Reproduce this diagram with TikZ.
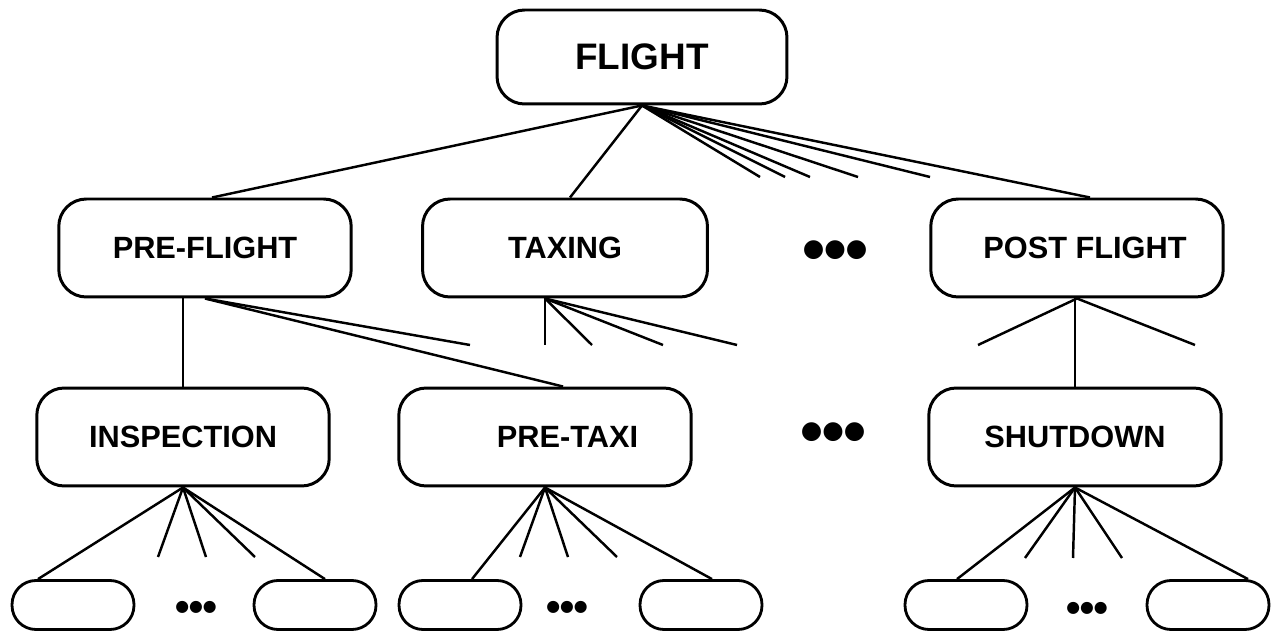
\documentclass[tikz,border=0pt]{standalone}
\usepackage{fontspec}
\setmainfont{Liberation Sans}
\newfontfamily\dotfont{DejaVu Sans}
\usepackage{tikz}
\usetikzlibrary{calc}

\begin{document}
\begin{tikzpicture}[x=0.02cm, y=-0.02cm,
    task/.style={rectangle, rounded corners=0.55cm, draw, line width=1.7pt,
                 minimum width=5.85cm, minimum height=1.96cm, align=center,
                 font=\fontsize{17.5}{20}\selectfont\bfseries},
    leaf/.style={rectangle, rounded corners=0.48cm, draw, line width=1.6pt,
                 minimum width=2.44cm, minimum height=0.98cm},
    link/.style={line width=1.4pt},
    moredots/.style={inner sep=0pt, font=\dotfont\fontsize{14}{14}\selectfont},
    fewdots/.style={inner sep=0pt, font=\dotfont\fontsize{9}{9}\selectfont}
]
\useasboundingbox (0,0) rectangle (1271,634);

\node[task, minimum width=5.8cm, minimum height=1.88cm,
      font=\fontsize{21}{24}\selectfont\bfseries] (flight) at (642,57) {FLIGHT};

\node[task] (preflight) at (205,248) {PRE-FLIGHT};
\node[task, minimum width=5.7cm] (taxing) at (565,248) {TAXING};
\node[moredots] (dotsA) at (835,250) {●●●};
\node[task] (postflight) at (1077,248) {\hspace*{0.32cm}POST FLIGHT};

\node[task] (inspection) at (183,437) {INSPECTION};
\node[task] (pretaxi) at (545,437) {\hspace*{0.9cm}PRE-TAXI};
\node[moredots] (dotsB) at (833,432) {●●●};
\node[task] (shutdown) at (1075,437) {SHUTDOWN};

\node[leaf] (insA) at (73,605) {};
\node[fewdots] (insdots) at (196,607) {●●●};
\node[leaf] (insB) at (315,605) {};
\node[leaf] (ptA) at (460,605) {};
\node[fewdots] (ptdots) at (567,607) {●●●};
\node[leaf] (ptB) at (701,605) {};
\node[leaf] (sdA) at (966,605) {};
\node[fewdots] (sddots) at (1087,608) {●●●};
\node[leaf] (sdB) at (1208,605) {};

\draw[link] (flight.south) -- ([xshift=0.14cm]preflight.north);
\draw[link] (flight.south) -- ([xshift=0.1cm]taxing.north);
\draw[link] (flight.south) -- ([xshift=0.26cm]postflight.north);
\foreach \x [count=\i] in {760,785,810,858,930} {
  \coordinate (fl\i) at (\x,177);
  \draw[link] (flight.south) -- (fl\i);
}

\coordinate (pfl) at (470,345);
\draw[link] (preflight.south) -- (pfl);
\draw[link] (preflight.south) -- ([xshift=0.36cm]pretaxi.north);
\draw[link] (inspection.north |- preflight.south) -- (inspection.north);

\coordinate (txfan) at ($(taxing.south)+(-20,0)$);
\foreach \x [count=\i] in {545,592,663,737} {
  \coordinate (tx\i) at (\x,345);
  \draw[link] (txfan) -- (tx\i);
}

\foreach \x [count=\i] in {978,1195} {
  \coordinate (pf\i) at (\x,345);
  \draw[link] (postflight.south) -- (pf\i);
}
\draw[link] (shutdown.north |- postflight.south) -- (shutdown.north);

\draw[link] (inspection.south) -- ([xshift=-0.7cm]insA.north);
\foreach \x [count=\i] in {158,206,255} {
  \coordinate (in\i) at (\x,557);
  \draw[link] (inspection.south) -- (in\i);
}
\draw[link] (inspection.south) -- ([xshift=0.2cm]insB.north);

\draw[link] (pretaxi.south) -- ([xshift=0.24cm]ptA.north);
\foreach \x [count=\i] in {520,568,617} {
  \coordinate (pt\i) at (\x,557);
  \draw[link] (pretaxi.south) -- (pt\i);
}
\draw[link] (pretaxi.south) -- ([xshift=0.22cm]ptB.north);

\draw[link] (shutdown.south) -- ([xshift=-0.18cm]sdA.north);
\foreach \x [count=\i] in {1025,1073,1122} {
  \coordinate (sd\i) at (\x,558);
  \draw[link] (shutdown.south) -- (sd\i);
}
\draw[link] (shutdown.south) -- ([xshift=0.8cm]sdB.north);
\end{tikzpicture}
\end{document}
